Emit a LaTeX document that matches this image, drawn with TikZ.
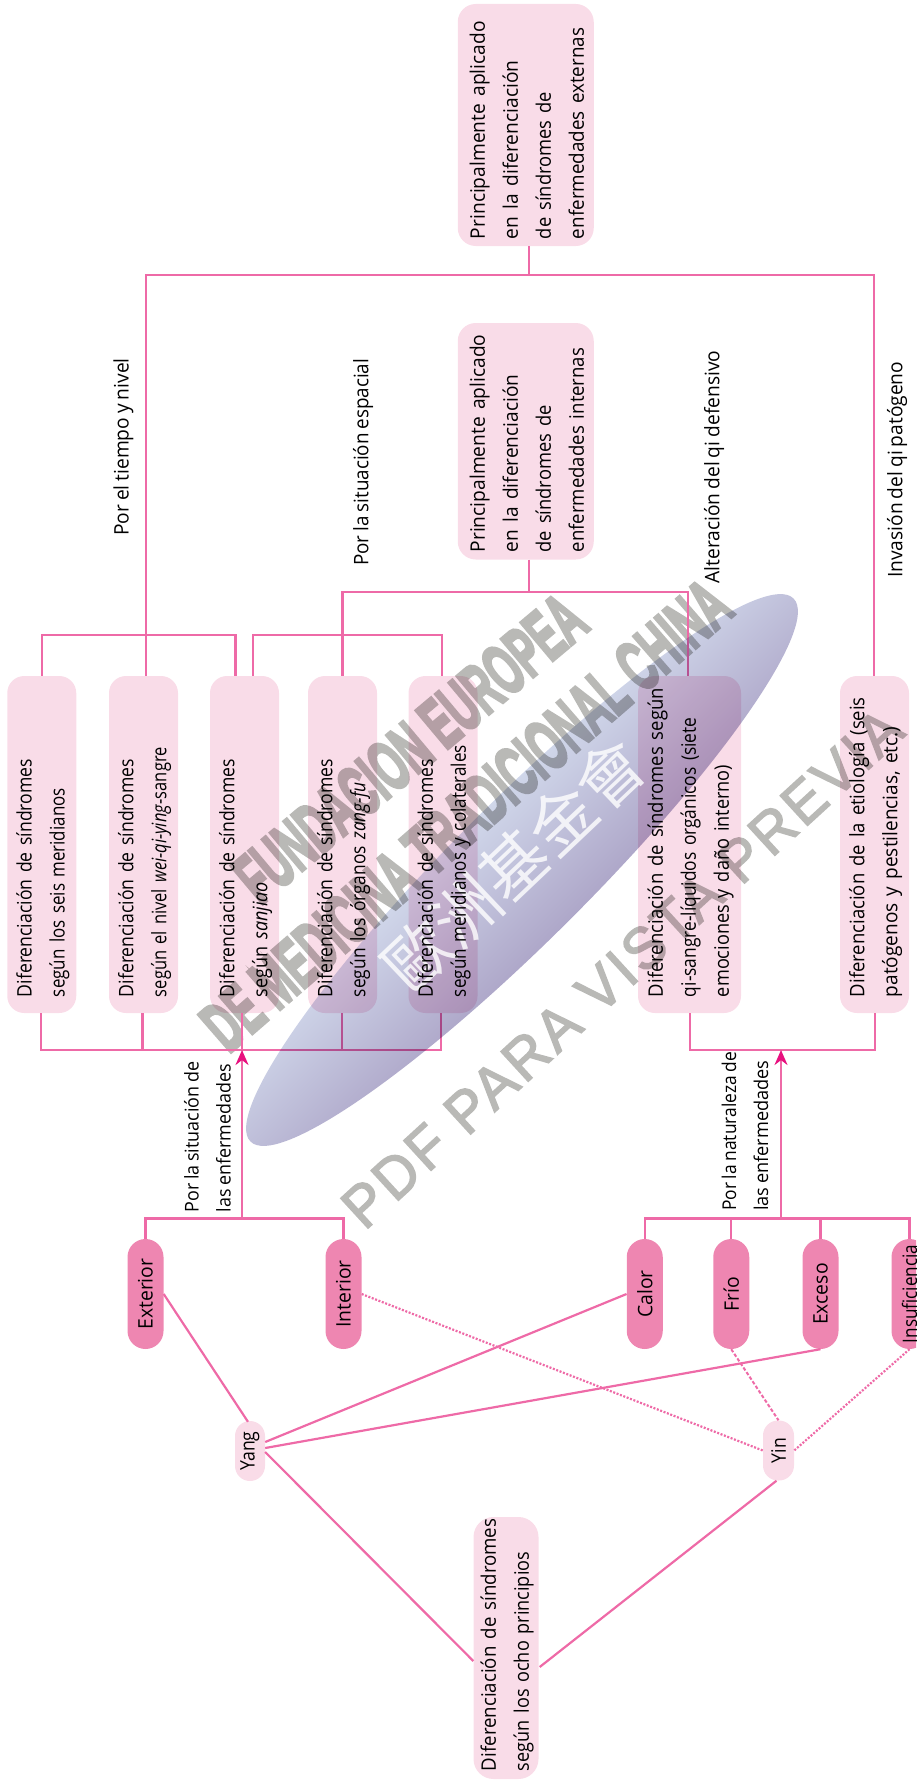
\documentclass[tikz,border=0pt]{standalone}
\usepackage{fontspec}
\setmainfont[FakeStretch=0.88,WordSpace=0.8]{Open Sans}
\newfontfamily\wmfont[FakeBold=5]{Liberation Sans}
\newfontfamily\wmthin[LetterSpace=6,FakeBold=2.5]{Liberation Sans}
\newfontfamily\cjkfont{Noto Sans CJK TC}
\usetikzlibrary{shapes.geometric,arrows.meta,calc}
\newcommand\hsq[2]{\scalebox{#1}[1]{#2}}
\definecolor{boxpink}{HTML}{F9DCE8}
\definecolor{pillpink}{HTML}{EE86B1}
\definecolor{linepink}{HTML}{EE6AA7}
\definecolor{arrowpink}{HTML}{E8107F}
\definecolor{wmlight}{HTML}{D0D7EA}
\definecolor{wmdark}{HTML}{AEA7C9}
\definecolor{wmgray}{HTML}{B9B9B6}
\tikzset{
  boxfill/.style n args={3}{rotate=90,rectangle,rounded corners=#3,fill=boxpink,draw=none,inner sep=0pt,
    minimum width=#1,minimum height=#2},
  pillfill/.style n args={3}{rotate=90,rectangle,rounded corners=#3,fill=#2,draw=none,inner sep=0pt,
    minimum width=#1,minimum height=36pt},
  boxtext/.style={rotate=90,inner sep=0pt,align=left,text width=#1,font=\fontsize{20}{33}\selectfont},
  plaintext/.style={rotate=90,inner sep=0pt,anchor=west,align=left,font=\fontsize{20}{33}\selectfont},
  smalltext/.style={rotate=90,inner sep=0pt,anchor=west,align=left,font=\fontsize{19}{32}\selectfont},
  pilltext/.style={rotate=90,inner sep=0pt,font=\fontsize{20}{24}\selectfont},
  conn/.style={draw=linepink,line width=2.3pt,line join=miter},
  dia/.style={draw=linepink,line width=2.2pt},
  dotline/.style={draw=linepink,line width=2.2pt,dash pattern=on 2pt off 1.6pt},
  dashline/.style={draw=linepink,line width=2pt,dash pattern=on 3.5pt off 2pt},
  arrowline/.style={draw=linepink,line width=2.3pt,-{Stealth[length=15pt,width=13pt,color=arrowpink]}},
  cjkmark/.style={white,opacity=.8,inner sep=0pt,rotate=43.5,font=\cjkfont\fontsize{66}{70}\selectfont},
  graymark/.style={wmgray,inner sep=0pt},
}
\begin{document}
\begin{tikzpicture}[x=1pt,y=-1pt]
\useasboundingbox (0,0) rectangle (916,1782);
\clip (0,0) rectangle (916,1782);
% gray marks, beneath the multiplied fills
\node[graymark,rotate=40] (g1) at (410,748) {\resizebox{432pt}{50pt}{\wmfont\bfseries FUNDACION EUROPEA}};
\node[graymark,rotate=41] (g2) at (466,815) {\resizebox{672pt}{50pt}{\wmfont\bfseries DE MEDICINA TRADICIONAL CHINA}};
\node[graymark,rotate=42.5] (g3) at (622,968) {\resizebox{735pt}{41pt}{\wmthin PDF PARA VISTA PREVIA}};
% box fills
\begin{scope}[blend mode=multiply]
\node[boxfill={242pt}{136pt}{18pt}] (ta) at (525.75,125) {};
\node[boxfill={236.5pt}{136pt}{18pt}] (tb) at (525.75,441.25) {};
\node[boxfill={337pt}{69pt}{17pt}] (b1) at (41.75,844.5) {};
\node[boxfill={337pt}{69pt}{17pt}] (b2) at (143.5,844.5) {};
\node[boxfill={337pt}{69pt}{17pt}] (b3) at (244.5,844.5) {};
\node[boxfill={337pt}{69pt}{17pt}] (b4) at (342.5,844.5) {};
\node[boxfill={337pt}{69pt}{17pt}] (b5) at (443,844.5) {};
\node[boxfill={337pt}{103pt}{17pt}] (b6) at (689.5,844.5) {};
\node[boxfill={337pt}{69pt}{17pt}] (b7) at (874.5,844.5) {};
\node[pillfill={110pt}{pillpink}{18pt}] (ext) at (145.5,1294) {};
\node[pillfill={110pt}{pillpink}{18pt}] (int) at (343.5,1294) {};
\node[pillfill={110pt}{pillpink}{18pt}] (cal) at (644.75,1294) {};
\node[pillfill={110pt}{pillpink}{18pt}] (fri) at (731.25,1294) {};
\node[pillfill={110pt}{pillpink}{18pt}] (exc) at (820.5,1294) {};
\node[pillfill={110pt}{pillpink}{18pt}] (ins) at (909.5,1294) {};
\node[boxfill={60pt}{30pt}{15pt}] (yang) at (250,1451) {};
\node[boxfill={60pt}{31pt}{15pt}] (yin) at (778.5,1450.5) {};
\node[boxfill={262pt}{65pt}{20pt}] (ocho) at (506,1648) {};
\end{scope}
% free ends
\coordinate (k1) at (235.5,634.7);
\coordinate (k2) at (146,275);
\coordinate (k3) at (874,275);
\coordinate (k4) at (529,275);
\coordinate (k5) at (529,592);
\coordinate (k6) at (342.5,592);
\coordinate (k7) at (688,592);
\coordinate (k8) at (253,634.7);
\coordinate (k9) at (442,634.7);
\coordinate (n1) at (41,1050);
\coordinate (n2) at (142.5,1050);
\coordinate (n3) at (242,1050);
\coordinate (n4) at (342,1050);
\coordinate (n5) at (441,1050);
\coordinate (n6) at (690,1050);
\coordinate (n7) at (875,1050);
\coordinate (n8) at (781,1050);
\coordinate (p1) at (242,1218.6);
\coordinate (p2) at (781,1218.6);
% connectors
\draw[conn] (k2 |- b2.east) -- (k2) -- (k3) -- (k3 |- b7.east);
\draw[conn] (k4 |- ta.west) -- (k4);
\draw[conn] (k5 |- tb.west) -- (k5);
\draw[conn] (k6 |- b4.east) -- (k6) -- (k7) -- (k7 |- b6.east);
\draw[conn] (b1.east) |- (k1) -- (k1 |- b3.east);
\draw[conn] (k8 |- b3.east) -- (k8) -- (k9) -- (k9 |- b5.east);
\draw[conn] (n1 |- b1.west) -- (n1) -- (n5) -- (n5 |- b5.west);
\draw[conn] (n2 |- b2.west) -- (n2);
\draw[conn] (n3 |- b3.west) -- (n3);
\draw[conn] (n4 |- b4.west) -- (n4);
\draw[conn] (n6 |- b6.west) -- (n6) -- (n7) -- (n7 |- b7.west);
\draw[conn] (ext.east) -- (ext.east |- p1) -- (int.east |- p1) -- (int.east);
\draw[conn] (cal.east) -- (cal.east |- p2) -- (ins.east |- p2) -- (ins.east);
\draw[conn] (fri.east) -- (fri.east |- p2);
\draw[conn] (exc.east) -- (exc.east |- p2);
\draw[arrowline] (p1) -- (n3);
\draw[arrowline] (p2) -- (n8);
\draw[dia] (ext.south) -- ($(yang.east)+(-2,1)$);
\draw[dia] (cal.north) -- ($(yang.south)+(0,-9)$);
\draw[dia] (exc.west) -- ($(yang.south)+(0,-3)$);
\draw[dia] ($(yang.south)+(0,1)$) -- ($(ocho.north)+(0,13)$);
\draw[dotline] (int.south) -- (yin.north);
\draw[dashline] (fri.west) -- (yin.east);
\draw[dotline] (ins.west) -- (yin.south);
\draw[dia] ($(yin.west)+(-2,0)$) -- ($(ocho.south)+(1,19)$);
% watermark ellipse
\begin{scope}[blend mode=multiply,transform canvas={shift={(522,870)},rotate=45}]
\shade[top color=wmlight,bottom color=wmdark] (0,0) ellipse (384pt and 69pt);
\end{scope}
\node[cjkmark] (wmc) at (514,865) {歐洲基金會};
% texts
\node[boxtext=228pt] (tta) at ([xshift=1pt]ta.center) {\hsq{1.09}{Principalmente aplicado}\\\hsq{1.09}{en la diferenciación}\\\hsq{1.04}{de síndromes de}\\\hsq{1.07}{enfermedades externas}};
\node[boxtext=222pt] (ttb) at ([xshift=1pt]tb.center) {\hsq{1.09}{Principalmente aplicado}\\\hsq{1.085}{en la diferenciación}\\\hsq{1.04}{de síndromes de}\\\hsq{1.055}{enfermedades internas}};
\node[boxtext=305pt] (t1) at ([xshift=1pt]b1.center) {Diferenciación de síndromes\\\hsq{.963}{según los seis meridianos}};
\node[boxtext=305pt] (t2) at ([xshift=1pt]b2.center) {Diferenciación de síndromes\\\hsq{.935}{según el nivel \textit{wei-qi-ying}-sangre}};
\node[boxtext=305pt] (t3) at ([xshift=1pt]b3.center) {Diferenciación de síndromes\\\hsq{1.02}{según \textit{sanjiao}}};
\node[boxtext=305pt] (t4) at ([xshift=1pt]b4.center) {Diferenciación de síndromes\\\hsq{.985}{según los órganos \textit{zang-fu}}};
\node[boxtext=305pt] (t5) at ([xshift=1pt]b5.center) {Diferenciación de síndromes\\\hsq{.97}{según meridianos y colaterales}};
\node[boxtext=305pt] (t6) at ([xshift=1pt]b6.center) {\hsq{1.05}{Diferenciación de síndromes según}\\\hsq{.985}{qi-sangre-líquidos orgánicos (siete}\\\hsq{1.03}{emociones y daño interno)}};
\node[boxtext=305pt] (t7) at ([xshift=1pt]b7.center) {\hsq{1.05}{Diferenciación de la etiología (seis}\\\hsq{1.08}{patógenos y pestilencias, etc.)}};
\node[boxtext=246pt] (t8) at ([xshift=1pt]ocho.center) {\hsq{1.06}{Diferenciación de síndromes}\\\hsq{1.025}{según los ocho principios}};
\node[pilltext] (text) at (ext.center) {\hsq{1.1}{Exterior}};
\node[pilltext] (tint) at (int.center) {\hsq{1.1}{Interior}};
\node[pilltext] (tcal) at (cal.center) {\hsq{1.1}{Calor}};
\node[pilltext] (tfri) at (fri.center) {\hsq{1.1}{Frío}};
\node[pilltext] (texc) at (exc.center) {\hsq{1.1}{Exceso}};
\node[pilltext] (tins) at (ins.center) {\hsq{.97}{Insuficiencia}};
\node[pilltext] (tyang) at (yang.center) {Yang};
\node[pilltext] (tyin) at (yin.center) {Yin};
\node[plaintext] (l1) at (123.4,536) {\hsq{1.09}{Por el tiempo y nivel}};
\node[plaintext] (l2) at (363,566) {\hsq{1.07}{Por la situación espacial}};
\node[plaintext] (l3) at (714,583.6) {\hsq{1.09}{Alteración del qi defensivo}};
\node[plaintext] (l4) at (897,578) {\hsq{1.09}{Invasión del qi patógeno}};
\node[smalltext] (l5) at (207.5,1212.5) {\hsq{1.07}{Por la situación de}\\\hsq{1.07}{las enfermedades}};
\node[smalltext] (l6) at (745,1211) {\hsq{1.04}{Por la naturaleza de}\\\hsq{1.085}{las enfermedades}};
\end{tikzpicture}
\end{document}
